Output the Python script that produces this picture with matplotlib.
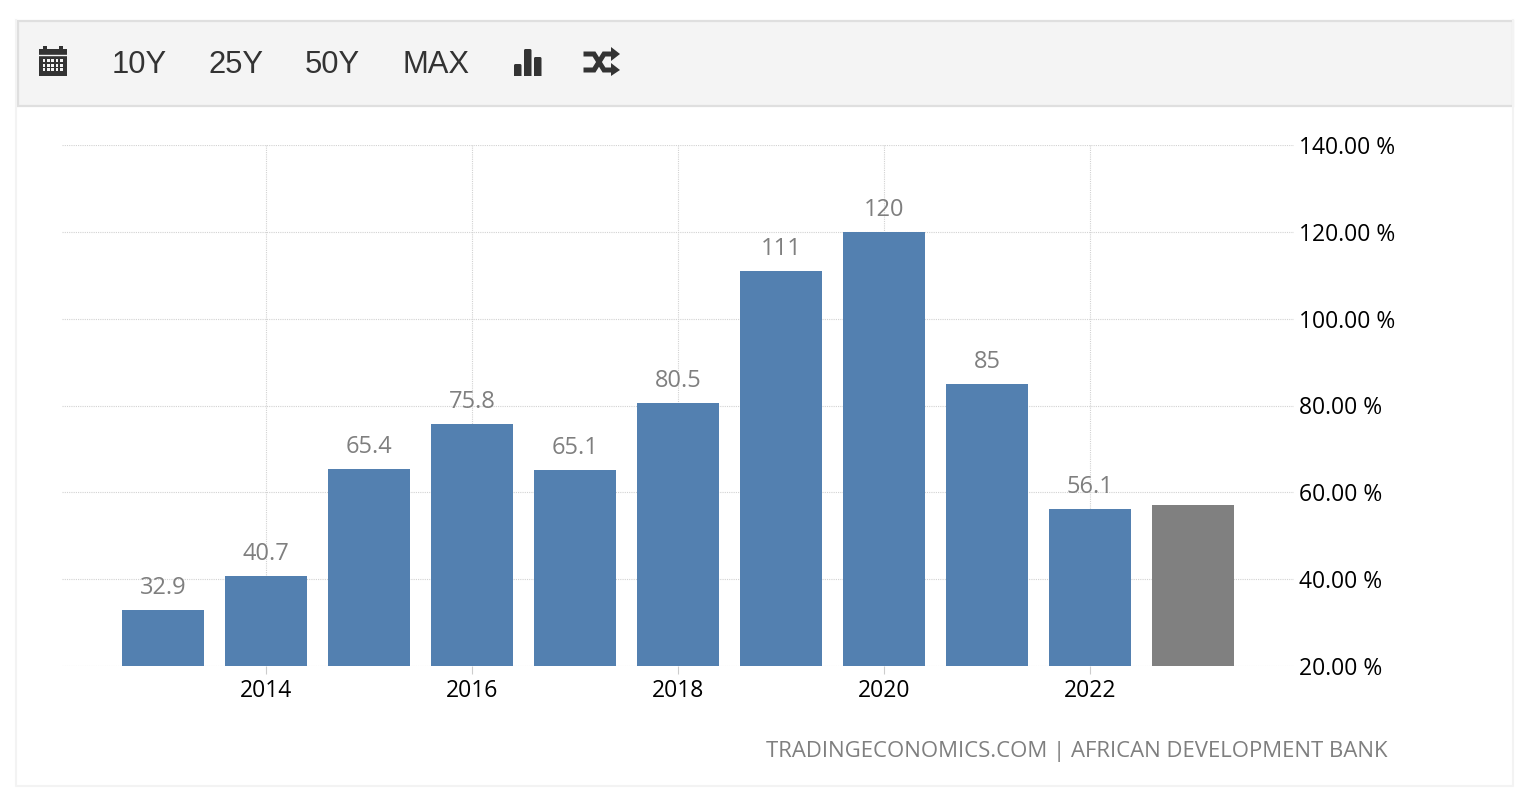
import matplotlib
matplotlib.use('Agg')
import matplotlib.pyplot as plt
from matplotlib.patches import Rectangle, FancyBboxPatch, Polygon

years = [2013, 2014, 2015, 2016, 2017, 2018, 2019, 2020, 2021, 2022, 2023]
values = [32.9, 40.7, 65.4, 75.8, 65.1, 80.5, 111, 120, 85, 56.1, 57.1]
value_labels = ['32.9', '40.7', '65.4', '75.8', '65.1', '80.5', '111', '120', '85', '56.1', '']
bar_colors = ['#5380b0'] * 10 + ['#808080']
year_ticks = [2014, 2016, 2018, 2020, 2022]
pct_ticks = [20, 40, 60, 80, 100, 120, 140]
range_buttons = ['10Y', '25Y', '50Y', 'MAX']
source_text = 'TRADINGECONOMICS.COM | AFRICAN DEVELOPMENT BANK'

W, H = 1532, 788
CHART_FONT = 'Open Sans'

fig = plt.figure(figsize=(W / 100, H / 100), dpi=100, facecolor='white')

# chart area, placed in pixels
ax = fig.add_axes([62 / W, 1 - 666 / H, (1294 - 62) / W, (666 - 145) / H])
ax.bar(years, values, width=0.8, color=bar_colors, zorder=3)
ax.set_xlim(2012.02, 2023.98)
ax.set_ylim(20, 140)
ax.set_xticks(year_ticks)
ax.set_yticks(pct_ticks)
ax.set_yticklabels(['%.2f %%' % v for v in pct_ticks])
ax.yaxis.tick_right()
ax.grid(True, color='#d2d2d2', linestyle=(0, (1, 1)), linewidth=0.8, zorder=0)
ax.set_axisbelow(True)
for s in ax.spines.values():
    s.set_visible(False)
ax.tick_params(axis='y', length=0, pad=3.5, labelsize=16.5, labelcolor='black')
ax.tick_params(axis='x', length=5.5, width=0.8, color='#cccccc', pad=3.6, labelsize=16.5, labelcolor='black')
for t in ax.get_xticklabels() + ax.get_yticklabels():
    t.set_fontfamily(CHART_FONT)
for t in ax.get_yticklabels():
    t.set_verticalalignment('center_baseline')

for x, v, lab in zip(years, values, value_labels):
    ax.annotate(lab, (x, v), xytext=(0, 10), textcoords='offset pixels', ha='center', va='bottom',
                fontsize=17, color='#7f7f7f', family=CHART_FONT)

# page furniture in pixel coordinates
ov = fig.add_axes([0, 0, 1, 1], zorder=5)
ov.set_xlim(0, W)
ov.set_ylim(H, 0)
ov.axis('off')
ov.patch.set_alpha(0)

ov.plot([16, 16, 1513, 1513], [20, 786, 786, 20], color='#f3f3f3', lw=1.5)
ov.add_patch(Rectangle((17.5, 21), 1495, 85, facecolor='#f4f4f4', edgecolor='#dfdfdf', lw=1.6))

for x, lab in zip([139.5, 236, 332.5, 436], range_buttons):
    ov.text(x, 65, lab, ha='center', va='center', fontsize=22.3, color='#333333', family='Liberation Sans')

# calendar icon
ink = '#333333'
ov.add_patch(Rectangle((39, 49), 28, 27, facecolor=ink, edgecolor='none'))
ov.add_patch(Rectangle((43, 46), 4, 5, facecolor=ink, edgecolor='none'))
ov.add_patch(Rectangle((59, 46), 4, 5, facecolor=ink, edgecolor='none'))
ov.plot([39, 67], [55, 55], color='#f4f4f4', lw=1)
for r in range(3):
    for c in range(5):
        ov.add_patch(Rectangle((42.5 + c * 4.4, 59 + r * 4.7), 2.6, 2.8, facecolor='#f4f4f4', edgecolor='none'))

# bar chart icon
for x0, top in [(514, 64), (524, 49), (534, 57)]:
    ov.add_patch(FancyBboxPatch((x0 + 1.5, top + 1.5), 4.5, 76 - top - 1.5, boxstyle='round,pad=1.5',
                                facecolor=ink, edgecolor='none'))
ov.add_patch(Rectangle((512, 76), 32, 4, facecolor='#f4f4f4', edgecolor='none'))

# shuffle icon
ov.plot([586, 594, 604, 612], [70, 70, 54, 54], color=ink, lw=3.6, solid_joinstyle='miter')
ov.plot([586, 594, 604, 612], [54, 54, 70, 70], color=ink, lw=3.6, solid_joinstyle='miter')
ov.add_patch(Polygon([[611, 47], [620, 54], [611, 61]], facecolor=ink, edgecolor='none'))
ov.add_patch(Polygon([[611, 63], [620, 70], [611, 76]], facecolor=ink, edgecolor='none'))

ov.text(1387, 751, source_text, ha='right', va='center', fontsize=15.9, color='#7f7f7f', family=CHART_FONT)

fig.savefig('out.png', dpi=100)
